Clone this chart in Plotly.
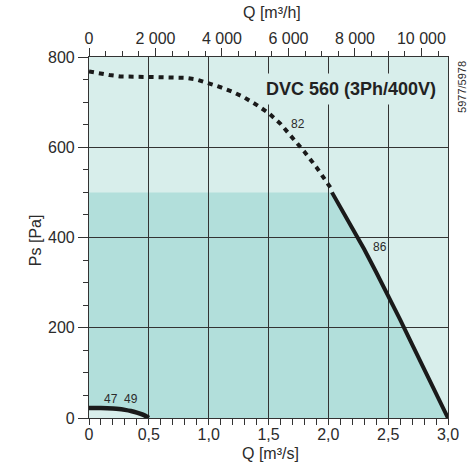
import plotly.graph_objects as go

# ---- data ----
q_dotted = [0, 0.09, 0.17, 0.26, 0.4, 0.55, 0.7, 0.8, 0.9, 1.0, 1.1, 1.2, 1.3,
            1.4, 1.5, 1.6, 1.7, 1.8, 1.9, 2.0, 2.04]
ps_dotted = [768, 763, 760, 757, 756, 756, 756, 754, 750, 742, 733, 723, 710,
             694, 676, 652, 622, 590, 556, 520, 502]

q_solid = [2.03, 2.1, 2.2, 2.3, 2.4, 2.5, 2.6, 2.7, 2.8, 2.9, 3.0]
ps_solid = [500, 468, 422, 374, 323, 272, 218, 163, 109, 54, 0]

q_small = [0, 0.1, 0.2, 0.25, 0.3, 0.35, 0.4, 0.45, 0.5]
ps_small = [22, 22, 21, 20, 18, 15.5, 12, 7.5, 0]

dark_limit = 500

q_ticks = [0, 0.5, 1.0, 1.5, 2.0, 2.5, 3.0]
q_ticklabels = ["0", "0,5", "1,0", "1,5", "2,0", "2,5", "3,0"]
qh_ticks = [0, 2000, 4000, 6000, 8000, 10000]
qh_ticklabels = ["0", "2 000", "4 000", "6 000", "8 000", "10 000"]
ps_ticks = [0, 200, 400, 600, 800]
ps_ticklabels = ["0", "200", "400", "600", "800"]

curve_labels = ["82", "86", "47", "49"]
curve_label_q = [1.746, 2.43, 0.186, 0.353]
curve_label_ps = [652, 379, 43, 43]

title_text = "DVC 560 (3Ph/400V)"
side_text = "5977/5978"
m3h_per_m3s = 3600

# ---- styling ----
LIGHT = "#d8eeeb"
DARK = "#b2dfdb"
INK = "#1a1a1a"
TXT = "#2b2b2b"
FONT = "Liberation Sans, Arial, sans-serif"

fig = go.Figure()

# dark region path built from the data
pts = [(0, dark_limit), (q_solid[0], dark_limit)]
pts += list(zip(q_solid, ps_solid))
pts += list(zip(q_small[::-1], ps_small[::-1]))
path = "M " + " L ".join(f"{x},{y}" for x, y in pts) + " Z"

fig.add_shape(type="path", path=path, xref="x", yref="y", layer="below",
              fillcolor=DARK, line=dict(width=0))

fig.add_trace(go.Scatter(x=q_dotted, y=ps_dotted, mode="lines",
                         line=dict(color=INK, width=4, dash="5px,5px"),
                         hoverinfo="skip", showlegend=False))
fig.add_trace(go.Scatter(x=q_solid, y=ps_solid, mode="lines",
                         line=dict(color=INK, width=4),
                         hoverinfo="skip", showlegend=False))
fig.add_trace(go.Scatter(x=q_small, y=ps_small, mode="lines",
                         line=dict(color=INK, width=4.5, shape="spline"),
                         hoverinfo="skip", showlegend=False))
# invisible trace so the top (m3/h) axis is drawn
fig.add_trace(go.Scatter(x=[0, q_ticks[-1] * m3h_per_m3s], y=[0, 0], xaxis="x2",
                         mode="lines", line=dict(width=0), opacity=0,
                         hoverinfo="skip", showlegend=False))

for t, qx, py in zip(curve_labels, curve_label_q, curve_label_ps):
    fig.add_annotation(x=qx, y=py, xref="x", yref="y", text=t, showarrow=False,
                       xanchor="center", yanchor="middle",
                       font=dict(family=FONT, size=12, color=TXT))

fig.add_annotation(x=2.186, y=730, xref="x", yref="y", text=f"<b>{title_text}</b>",
                   showarrow=False, bgcolor=LIGHT, borderpad=5,
                   xanchor="center", yanchor="middle",
                   font=dict(family=FONT, size=18, color="#222"))

fig.add_annotation(x=1.039, y=0.917, xref="paper", yref="paper", text=side_text,
                   textangle=-90, showarrow=False, xanchor="center", yanchor="middle",
                   font=dict(family=FONT, size=11, color=TXT))

fig.add_annotation(x=0.51, y=1.122, xref="paper", yref="paper", text="Q [m³/h]",
                   showarrow=False, xanchor="center", yanchor="middle",
                   font=dict(family=FONT, size=16, color=TXT))
fig.add_annotation(x=0.505, y=-0.097, xref="paper", yref="paper", text="Q [m³/s]",
                   showarrow=False, xanchor="center", yanchor="middle",
                   font=dict(family=FONT, size=16, color=TXT))
fig.add_annotation(x=-0.150, y=0.493, xref="paper", yref="paper", text="Ps [Pa]",
                   textangle=-90, showarrow=False, xanchor="center", yanchor="middle",
                   font=dict(family=FONT, size=16, color=TXT))

axis_common = dict(showline=True, linecolor="#333", linewidth=1.2,
                   ticks="outside", tickcolor="#333", tickwidth=1,
                   tickfont=dict(family=FONT, size=16, color=TXT), zeroline=False,
                   automargin=False)

fig.update_layout(
    width=469, height=464,
    margin=dict(l=89, r=21, t=57, b=46),
    paper_bgcolor="white", plot_bgcolor=LIGHT,
    showlegend=False,
    xaxis=dict(range=[0, 3.0], tickmode="array", tickvals=q_ticks, ticktext=q_ticklabels,
               ticklen=6, showgrid=True, gridcolor="#333", gridwidth=1,
               ticklabelstandoff=-4,
               minor=dict(tickmode="linear", tick0=0, dtick=0.1, ticklen=6,
                          tickcolor="#333", showgrid=False),
               **axis_common),
    xaxis2=dict(range=[0, 3.0 * m3h_per_m3s], overlaying="x", side="top", anchor="y",
                tickmode="array", tickvals=qh_ticks, ticktext=qh_ticklabels,
                ticklen=8, showgrid=False, ticklabelstandoff=-2,
                minor=dict(tickmode="linear", tick0=0, dtick=500, ticklen=5,
                           tickcolor="#333", showgrid=False),
                **axis_common),
    yaxis=dict(range=[0, 800], tickmode="array", tickvals=ps_ticks, ticktext=ps_ticklabels,
               ticklen=10, showgrid=True, gridcolor="#333", gridwidth=1, mirror=True,
               minor=dict(tickmode="linear", tick0=0, dtick=50, ticklen=5,
                          tickcolor="#333", showgrid=False),
               **axis_common),
)

# remove the browser's default 8px body margin so the figure fills the window
fig.write_html("out.html", config={"displayModeBar": False},
               post_script="document.body.style.margin='0';")
